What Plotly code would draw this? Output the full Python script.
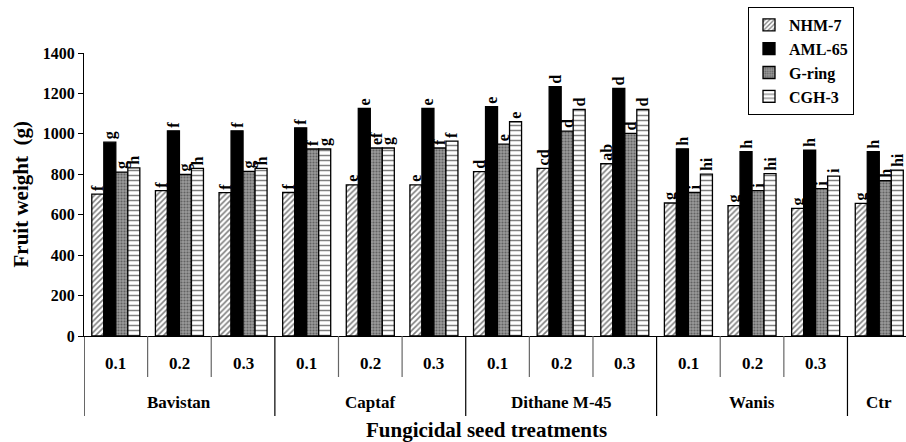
import plotly.graph_objects as go

# ---------------- data ----------------
groups = ["Bavistan"] * 3 + ["Captaf"] * 3 + ["Dithane M-45"] * 3 + ["Wanis"] * 3 + ["Ctr"]
doses = ["0.1", "0.2", "0.3"] * 4 + [""]

series_names = ["NHM-7", "AML-65", "G-ring", "CGH-3"]
nhm7 = [702, 719, 709, 710, 748, 748, 813, 829, 852, 658, 645, 631, 656]
aml65 = [959, 1015, 1015, 1030, 1126, 1126, 1134, 1233, 1225, 926, 912, 920, 912]
gring = [811, 799, 814, 925, 930, 930, 949, 1014, 1002, 710, 719, 729, 768]
cgh3 = [832, 829, 829, 925, 930, 964, 1060, 1121, 1121, 801, 803, 791, 821]

nhm7_lbl = ["f", "f", "f", "f", "e", "e", "d", "cd", "ab", "g", "g", "g", "g"]
aml65_lbl = ["g", "f", "f", "f", "e", "e", "e", "d", "d", "h", "h", "h", "h"]
gring_lbl = ["g", "g", "g", "f", "ef", "f", "e", "d", "d", "i", "i", "i", "h"]
cgh3_lbl = ["h", "h", "h", "g", "g", "f", "e", "d", "d", "hi", "hi", "i", "hi"]

y_title = "Fruit weight  (g)"
x_title = "Fungicidal seed treatments"

# ---------------- styling ----------------
FONT = "Times New Roman, Liberation Serif, serif"
xpos = list(range(len(groups)))

styles = [
    dict(color="white", pattern=dict(shape="/", fgcolor="black", bgcolor="white", size=4, solidity=0.4)),
    dict(color="black"),
    dict(color="#808080", pattern=dict(shape=".", fgcolor="#2a2a2a", bgcolor="#9a9a9a", size=3, solidity=0.4)),
    dict(color="white", pattern=dict(shape="-", fgcolor="black", bgcolor="white", size=5, solidity=0.3)),
]

fig = go.Figure()
for name, vals, lbls, st in zip(series_names, [nhm7, aml65, gring, cgh3],
                                [nhm7_lbl, aml65_lbl, gring_lbl, cgh3_lbl], styles):
    fig.add_trace(go.Bar(
        x=xpos, y=vals, name=name, text=lbls,
        textposition="outside", textangle=-90, constraintext="none",
        textfont=dict(family=FONT, size=16, color="black", weight="bold"),
        marker=dict(line=dict(color="black", width=1.3), **st),
        cliponaxis=False, legendgroup=name,
    ))

# axis annotations (sub-categories, groups, titles)
ann = []
for x, d in zip(xpos, doses):
    if d:
        ann.append(dict(x=x, y=0, xref="x", yref="paper", text=d, showarrow=False,
                        yanchor="middle", yshift=-27,
                        font=dict(family=FONT, size=17, color="black", weight="bold")))
seen = []
for g in groups:
    if g not in seen:
        seen.append(g)
for g in seen:
    idx = [i for i, gg in enumerate(groups) if gg == g]
    cx = sum(idx) / len(idx)
    ann.append(dict(x=cx, y=0, xref="x", yref="paper", text=g, showarrow=False,
                    yanchor="middle", yshift=-66,
                    font=dict(family=FONT, size=17, color="black", weight="bold")))
ann.append(dict(x=0.5, y=0, xref="paper", yref="paper", text=x_title, showarrow=False,
                xanchor="center", yanchor="middle", yshift=-94, xshift=-9,
                font=dict(family=FONT, size=21, color="black", weight="bold")))
ann.append(dict(x=0, y=0.5, xref="paper", yref="paper", text=y_title, showarrow=False,
                textangle=-90, xanchor="center", yanchor="middle", xshift=-64,
                font=dict(family=FONT, size=21, color="black", weight="bold")))

# divider lines between categories / groups
plot_h = 442 - 53 - 106
shapes = []
bounds = [-0.5] + [i + 0.5 for i in range(len(groups) - 1)]
for b in bounds:
    if b == -0.5:
        is_group = True
    else:
        i = int(b - 0.5)
        is_group = groups[i] != groups[i + 1]
    if is_group:
        shapes.append(dict(type="line", xref="x", yref="paper", x0=b, x1=b, y0=0, y1=-80 / plot_h,
                           line=dict(color="black", width=1.2)))
    else:
        shapes.append(dict(type="line", xref="x", yref="paper", x0=b, x1=b, y0=0, y1=-41 / plot_h,
                           line=dict(color="#666666", width=1.2)))

fig.update_layout(
    width=906, height=442,
    margin=dict(l=84, r=0, t=53, b=106),
    paper_bgcolor="white", plot_bgcolor="white",
    barmode="group", bargap=0.245, bargroupgap=0,
    font=dict(family=FONT, color="black"),
    showlegend=True,
    legend=dict(x=(748 - 84) / 822, xanchor="left", y=(336 - 7) / plot_h, yanchor="top",
                bordercolor="black", borderwidth=1, bgcolor="white",
                font=dict(family=FONT, size=16, color="black", weight="bold"),
                tracegroupgap=1, traceorder="normal"),
    xaxis=dict(range=[-0.5, 12.42], showline=True, linecolor="black", linewidth=1.2,
               showticklabels=False, ticks="", showgrid=False, zeroline=False),
    yaxis=dict(range=[0, 1400], dtick=200, tick0=0, ticks="outside", ticklen=5, tickcolor="black",
               showline=True, linecolor="black", linewidth=1.2, showgrid=False, zeroline=False,
               tickfont=dict(family=FONT, size=16, color="black", weight="bold")),
    annotations=ann, shapes=shapes,
)

fig.write_html("out.html")
